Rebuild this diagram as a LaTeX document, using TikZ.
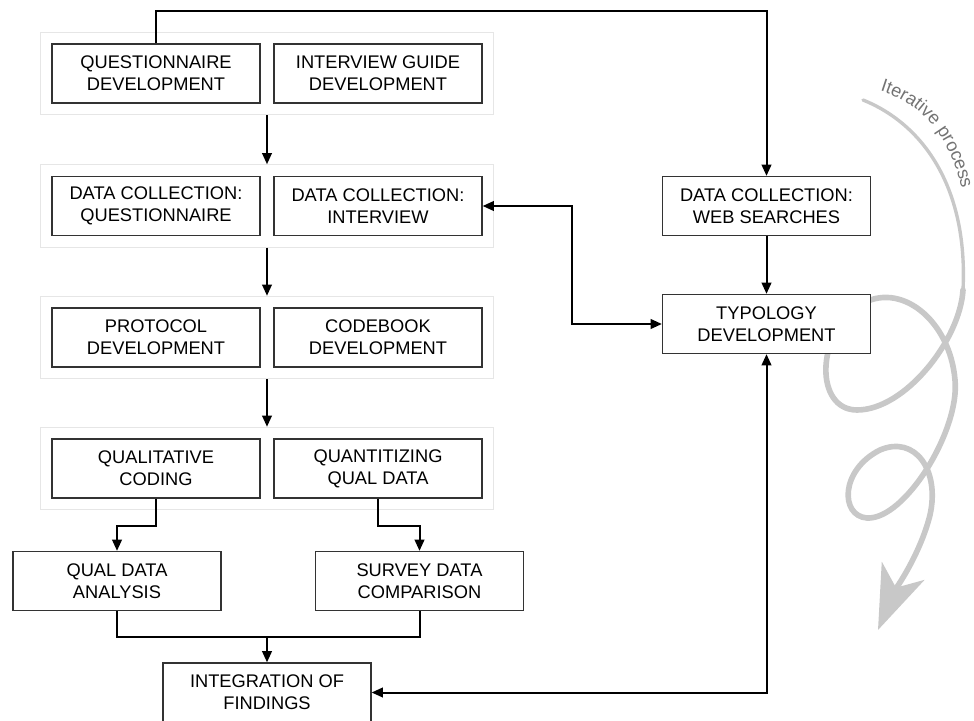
\documentclass[tikz,border=0pt]{standalone}
\usepackage{fontspec}
\setmainfont{Liberation Sans}
\usepackage{tikz}
\usetikzlibrary{arrows.meta, positioning, calc, fit, backgrounds, decorations.text}
\definecolor{boxline}{RGB}{51, 51, 51}
\definecolor{groupline}{RGB}{230, 230, 230}
\definecolor{loopgray}{RGB}{200, 200, 200}
\definecolor{notegray}{RGB}{115, 115, 115}
\newcommand{\notefont}{\fontsize{13}{15.6}\selectfont\color{notegray}}
\tikzset{
  font=\fontsize{13}{15.6}\selectfont,
  stepbox/.style={
    rectangle, draw=boxline, line width=0.32mm, fill=white,
    minimum width=52mm, minimum height=14.75mm,
    align=center, inner sep=0pt
  },
  groupbox/.style={
    rectangle, draw=groupline, line width=0.3mm, inner sep=2.75mm
  },
  flowline/.style={
    draw=black, line width=0.5mm, -{Triangle[length=2.8mm, width=2.4mm]}
  },
  bidirline/.style={
    draw=black, line width=0.5mm,
    {Triangle[length=2.8mm, width=2.4mm]}-{Triangle[length=2.8mm, width=2.4mm]}
  },
  plainline/.style={draw=black, line width=0.5mm},
  loopline/.style={draw=loopgray, line width=4pt, line cap=round}
}

\begin{document}
\begin{tikzpicture}[x=0.25mm, y=-0.25mm]
  \useasboundingbox (0,0) rectangle (974,721);

  % Stage 1: instrument development
  \node[stepbox] (qdev) at (156,73.5) {QUESTIONNAIRE\\DEVELOPMENT};
  \node[stepbox] (igdev) at (378,73.5) {INTERVIEW GUIDE\\DEVELOPMENT};

  % Stage 2: data collection
  \node[stepbox] (dcq) at (156,206) {DATA COLLECTION:\\QUESTIONNAIRE};
  \node[stepbox] (dci) at (378,206) {DATA COLLECTION:\\INTERVIEW};

  % Stage 3: protocol and codebook
  \node[stepbox] (prot) at (156,337.5) {PROTOCOL\\DEVELOPMENT};
  \node[stepbox] (code) at (378,337.5) {CODEBOOK\\DEVELOPMENT};

  % Stage 4: coding
  \node[stepbox] (qualc) at (156,468.5) {QUALITATIVE\\CODING};
  \node[stepbox] (quant) at (378,468.5) {QUANTITIZING\\QUAL DATA};

  % Analysis and integration
  \node[stepbox] (qda) at (117,581) {QUAL DATA\\ANALYSIS};
  \node[stepbox] (sdc) at (419.5,581) {SURVEY DATA\\COMPARISON};
  \node[stepbox] (integ) at (267,692.5) {INTEGRATION OF\\FINDINGS};

  % Right column: web searches and typology
  \node[stepbox] (web) at (766.5,206) {DATA COLLECTION:\\WEB SEARCHES};
  \node[stepbox] (typo) at (766.5,324) {TYPOLOGY\\DEVELOPMENT};

  % Light frames round each stage, loop arrow behind the boxes
  \begin{scope}[on background layer]
    \node[groupbox, fit=(qdev)(igdev)] (grpA) {};
    \node[groupbox, fit=(dcq)(dci)] (grpB) {};
    \node[groupbox, fit=(prot)(code)] (grpC) {};
    \node[groupbox, fit=(qualc)(quant)] (grpD) {};

    % Iterative process loop arrow
    \draw[loopline, line width=2.4pt] (863,100) .. controls (925,125) and (968,190) .. (963,290);
    \draw[loopline, -{Stealth[length=16mm, width=11.5mm, inset=4.5mm]}]
      (963,290) .. controls (960,340) and (905,410) .. (857,410)
      .. controls (815,410) and (815,335) .. (860,305)
      .. controls (900,280) and (950,320) .. (955,380)
      .. controls (960,430) and (905,520) .. (867,518)
      .. controls (840,516) and (840,470) .. (880,450)
      .. controls (915,435) and (940,470) .. (930,515)
      .. controls (920,555) and (895,590) .. (878,630);
  \end{scope}

  \coordinate (toprail) at (0,11);
  \coordinate (midrail) at (572,0);
  \coordinate (join) at (267,637);

  % Connectors
  \draw[flowline] (qdev.north) -- (qdev.north |- toprail) -| (web.north);
  \draw[flowline] (grpA.south) -- (grpB.north);
  \draw[flowline] (grpB.south) -- (grpC.north);
  \draw[flowline] (grpC.south) -- (grpD.north);
  \draw[flowline] (qualc.south) -- ++(0,27) -| (qda.north);
  \draw[flowline] (quant.south) -- ++(0,27) -| (sdc.north);
  \draw[plainline] (qda.south) |- (join) -| (sdc.south);
  \draw[flowline] (join) -- (integ.north);
  \draw[flowline] (web) -- (typo);
  \draw[bidirline] (dci.east) -- (dci.east -| midrail) |- (typo.west);
  \draw[bidirline] (integ.east) -| (typo.south);

  \path[decorate, decoration={text along path, text align=left,
      text={|\notefont|Iterative process}}]
    (880,91) .. controls (922,104) and (952,136) .. (964,200);

\end{tikzpicture}
\end{document}
